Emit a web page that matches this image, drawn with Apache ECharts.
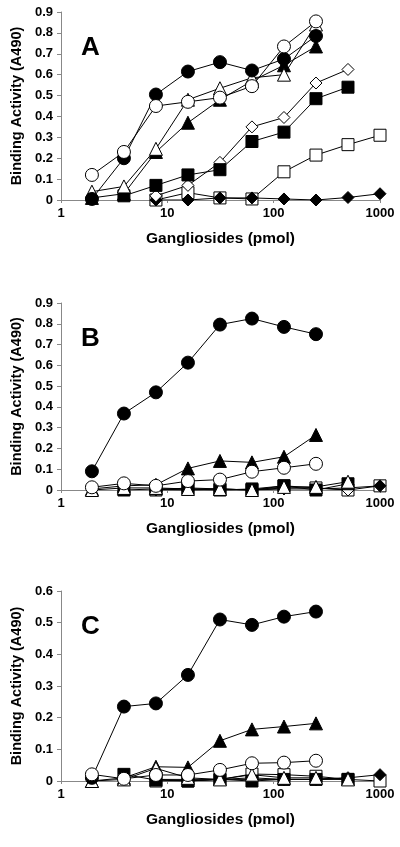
<!DOCTYPE html>
<html>
<head>
<meta charset="utf-8">
<script src="https://cdn.jsdelivr.net/npm/echarts@6/dist/echarts.min.js"></script>
<style>
html,body{margin:0;padding:0;background:#fff;}
#chart{width:400px;height:847px;}
</style>
</head>
<body>
<div id="chart"></div>
<script>
// x values (pmol), doubling dilutions
const xAll = [1.953125, 3.90625, 7.8125, 15.625, 31.25, 62.5, 125, 250, 500, 1000];
const xTickLabels = ['1', '10', '100', '1000'];
const panelLabels = ['A', 'B', 'C'];
const yMaxes = [0.9, 0.9, 0.6];

// Panel A
const A_filledCircle   = [0.005, 0.20, 0.505, 0.615, 0.66, 0.62, 0.675, 0.785];      // from 2
const A_openCircle     = [0.12, 0.23, 0.45, 0.47, 0.49, 0.545, 0.735, 0.855];        // from 2
const A_filledTriangle = [0.01, 0.03, 0.23, 0.37, 0.48, 0.57, 0.645, 0.735];         // from 2
const A_openTriangle   = [0.04, 0.065, 0.245, 0.48, 0.535, 0.585, 0.60, 0.84];       // from 2
const A_filledSquare   = [0.02, 0.07, 0.12, 0.145, 0.28, 0.325, 0.485, 0.54];        // from 4
const A_openSquare     = [0.0, 0.035, 0.01, 0.005, 0.135, 0.215, 0.265, 0.31];       // from 8
const A_filledDiamond  = [0.0, 0.0, 0.01, 0.01, 0.005, 0.0, 0.012, 0.03];            // from 8
const A_openDiamond    = [0.02, 0.07, 0.18, 0.35, 0.395, 0.56, 0.625];              // from 8

// Panel B
const B_filledCircle   = [0.09, 0.368, 0.47, 0.613, 0.796, 0.825, 0.785, 0.75];
const B_openCircle     = [0.013, 0.032, 0.02, 0.043, 0.05, 0.088, 0.107, 0.126];
const B_filledTriangle = [0.005, 0.02, 0.025, 0.104, 0.14, 0.133, 0.16, 0.265];
const B_openTriangle   = [0.0, 0.01, 0.01, 0.005, 0.005, 0.0, 0.015, 0.015, 0.04];
const B_filledSquare   = [0.0, 0.005, 0.005, 0.0, 0.005, 0.02, 0.0, 0.03];
const B_openSquare     = [0.0, 0.01, 0.005, 0.0, 0.02, 0.01, 0.0, 0.02];
const B_filledDiamond  = [0.0, 0.0, 0.0, 0.0, 0.005, 0.005, 0.01, 0.02];
const B_openDiamond    = [0.005, 0.0, 0.005, 0.0, 0.01, 0.01, 0.0];

// Panel C
const C_filledCircle   = [0.01, 0.235, 0.245, 0.335, 0.51, 0.493, 0.519, 0.535];
const C_openCircle     = [0.021, 0.007, 0.019, 0.019, 0.035, 0.056, 0.058, 0.064];
const C_filledTriangle = [0.0, 0.01, 0.045, 0.043, 0.127, 0.163, 0.172, 0.182];
const C_openTriangle   = [0.0, 0.005, 0.04, 0.01, 0.005, 0.02, 0.01, 0.01, 0.005];
const C_filledSquare   = [0.021, 0.003, 0.0, 0.005, 0.0, 0.005, 0.005, 0.005];
const C_openSquare     = [0.0, 0.0, 0.005, 0.022, 0.02, 0.015, 0.005, 0.0];
const C_filledDiamond  = [0.005, 0.005, 0.005, 0.005, 0.005, 0.005, 0.01, 0.02];
const C_openDiamond    = [0.005, 0.0, 0.005, 0.01, 0.005, 0.005, 0.01];

const styles = {
  openSquare:     {symbol: 'rect',     size: 12, fill: '#fff', start: 2},
  filledDiamond:  {symbol: 'diamond',  size: 12, fill: '#000', start: 2},
  openDiamond:    {symbol: 'diamond',  size: 12, fill: '#fff', start: 2},
  filledSquare:   {symbol: 'rect',     size: 12, fill: '#000', start: 1},
  filledTriangle: {symbol: 'triangle', size: 13, fill: '#000', start: 0},
  openTriangle:   {symbol: 'triangle', size: 13, fill: '#fff', start: 0},
  filledCircle:   {symbol: 'circle',   size: 13, fill: '#000', start: 0},
  openCircle:     {symbol: 'circle',   size: 13, fill: '#fff', start: 0}
};

const panels = [
  {filledDiamond: A_filledDiamond, openSquare: A_openSquare, openDiamond: A_openDiamond, filledSquare: A_filledSquare,
   filledTriangle: A_filledTriangle, openTriangle: A_openTriangle, filledCircle: A_filledCircle, openCircle: A_openCircle},
  {filledDiamond: B_filledDiamond, openSquare: B_openSquare, openDiamond: B_openDiamond, filledSquare: B_filledSquare,
   filledTriangle: B_filledTriangle, openTriangle: B_openTriangle, filledCircle: B_filledCircle, openCircle: B_openCircle},
  {filledDiamond: C_filledDiamond, openSquare: C_openSquare, openDiamond: C_openDiamond, filledSquare: C_filledSquare,
   filledTriangle: C_filledTriangle, openTriangle: C_openTriangle, filledCircle: C_filledCircle, openCircle: C_openCircle}
];

const gridTops = [12, 303, 591];
const gridHeights = [188, 187, 190];
const FONT = 'Liberation Sans, Arial, sans-serif';

const grids = [], xAxes = [], yAxes = [], series = [], graphics = [];
panels.forEach((p, pi) => {
  grids.push({left: 61, width: 319, top: gridTops[pi], height: gridHeights[pi]});
  xAxes.push({
    gridIndex: pi, type: 'log', logBase: 10, min: 1, max: 1000,
    name: 'Gangliosides (pmol)', nameLocation: 'middle', nameGap: 31,
    nameTextStyle: {fontFamily: FONT, fontWeight: 'bold', fontSize: 15.5, color: '#000'},
    axisLine: {lineStyle: {color: '#888', width: 1}},
    axisTick: {show: true, length: 3, lineStyle: {color: '#888'}},
    minorTick: {show: false}, splitLine: {show: false},
    axisLabel: {fontFamily: FONT, fontWeight: 'bold', fontSize: 13, color: '#000', margin: 7,
      formatter: v => { const s = String(Math.round(v)); return xTickLabels.indexOf(s) >= 0 ? s : ''; }}
  });
  yAxes.push({
    gridIndex: pi, type: 'value', min: 0, max: yMaxes[pi], interval: 0.1,
    name: 'Binding Activity (A490)', nameLocation: 'middle', nameGap: 37, nameRotate: 90,
    nameTextStyle: {fontFamily: FONT, fontWeight: 'bold', fontSize: 14.5, color: '#000'},
    axisLine: {show: true, lineStyle: {color: '#888', width: 1}},
    axisTick: {show: true, length: 4, lineStyle: {color: '#888'}},
    splitLine: {show: false},
    axisLabel: {fontFamily: FONT, fontWeight: 'bold', fontSize: 13, color: '#000', margin: 8,
      formatter: v => v === 0 ? '0' : v.toFixed(1)}
  });
  Object.keys(styles).forEach(k => {
    const st = styles[k];
    const ys = p[k];
    const data = ys.map((y, i) => [xAll[st.start + i], y]);
    series.push({
      type: 'line', xAxisIndex: pi, yAxisIndex: pi, data: data,
      symbol: st.symbol, symbolSize: st.size, showSymbol: true,
      lineStyle: {color: '#000', width: 1},
      itemStyle: {color: st.fill, borderColor: '#000', borderWidth: 1},
      animation: false, z: 3
    });
  });
  graphics.push({type: 'text', left: 81, top: gridTops[pi] + 23,
    style: {text: panelLabels[pi], font: 'bold 26px ' + FONT, fill: '#000'}});
});

const chart = echarts.init(document.getElementById('chart'), null, {renderer: 'canvas'});
chart.setOption({
  animation: false,
  grid: grids, xAxis: xAxes, yAxis: yAxes, series: series, graphic: graphics
});
</script>
</body>
</html>
